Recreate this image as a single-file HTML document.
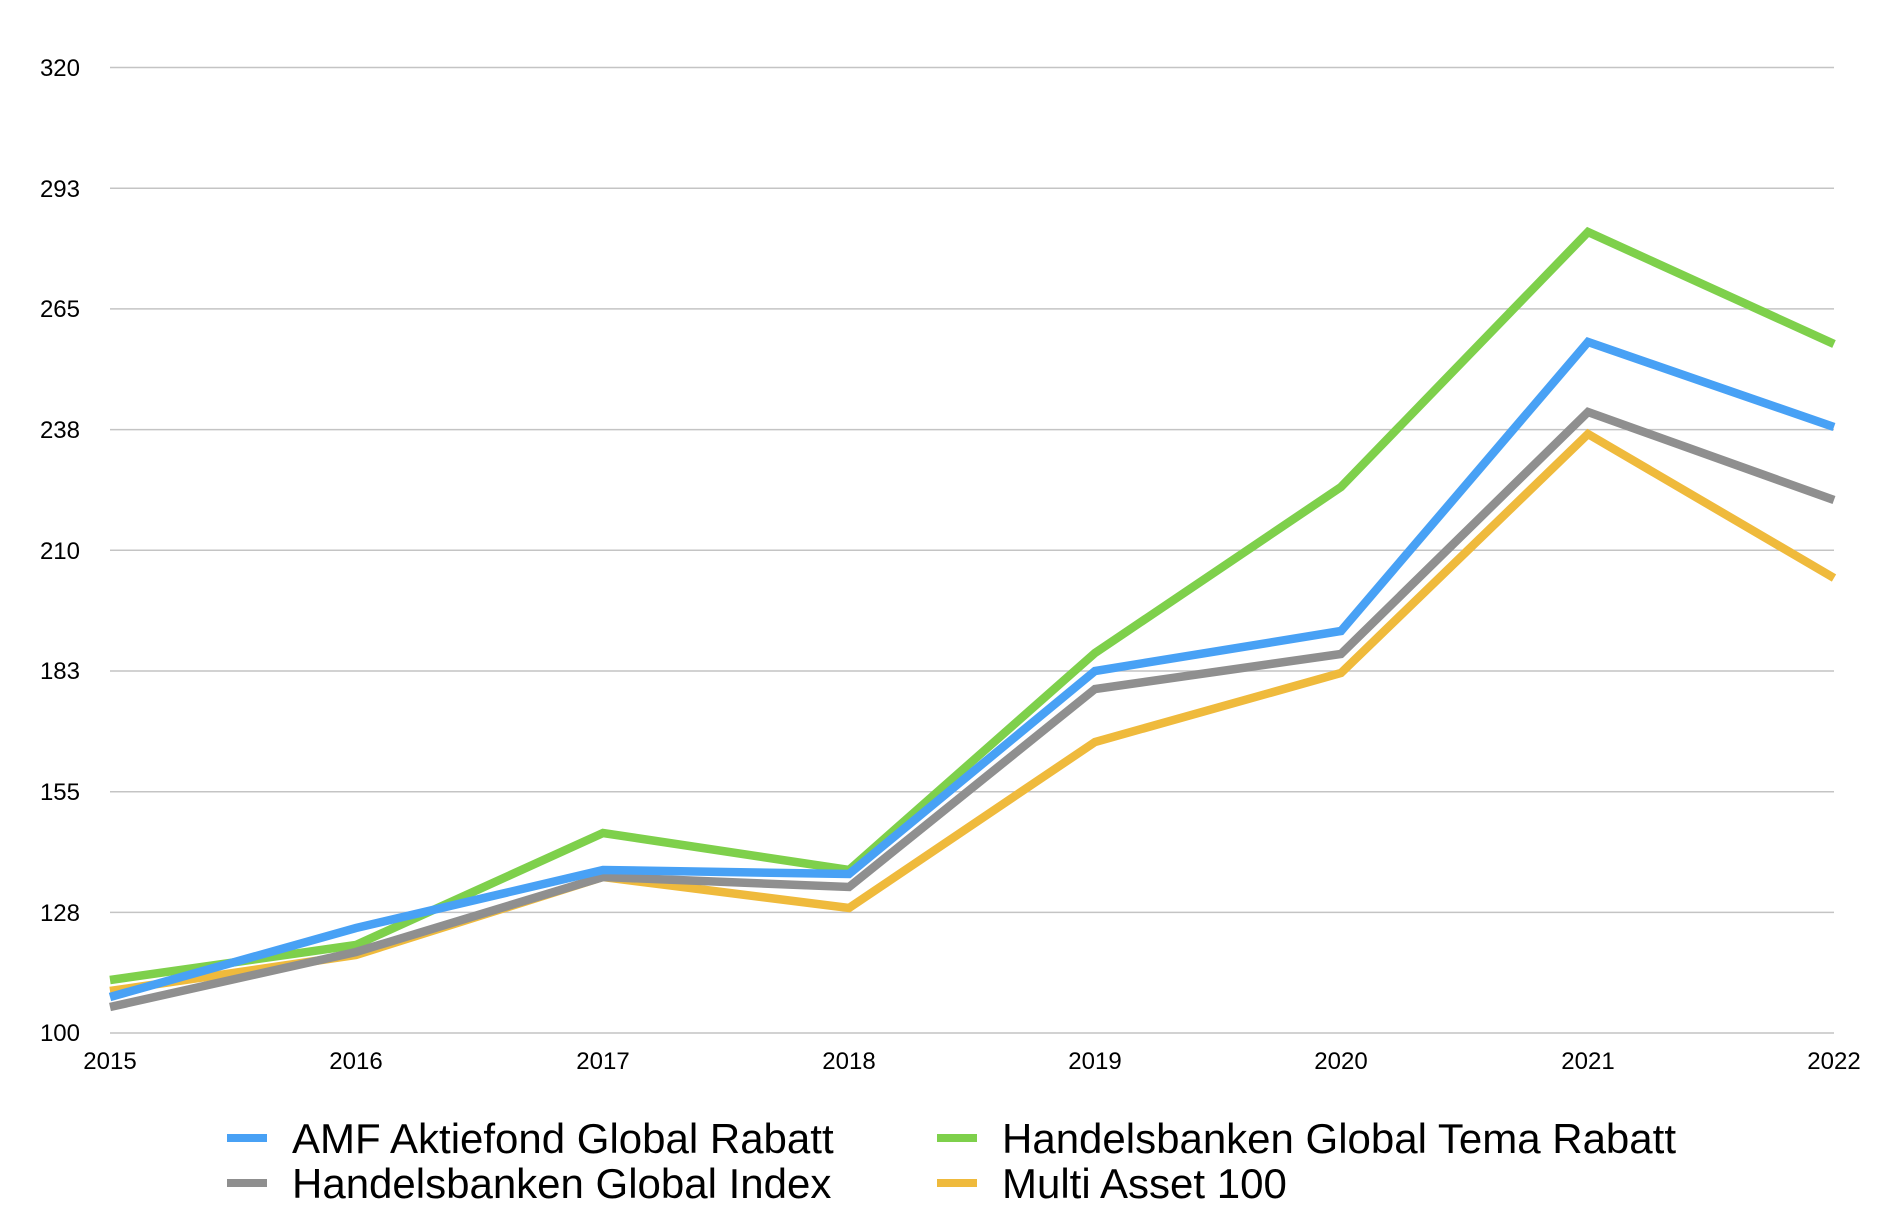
<!DOCTYPE html>
<html><head><meta charset="utf-8"><style>
html,body{margin:0;padding:0;background:#fff;}
svg{display:block;}
text{font-family:"Liberation Sans",Arial,sans-serif;fill:#000;}
</style></head><body>
<svg width="1895" height="1231" viewBox="0 0 1895 1231" xmlns="http://www.w3.org/2000/svg">
<g stroke="#c4c4c4" stroke-width="1.5">
<line x1="110" x2="1834" y1="67.5" y2="67.5"/>
<line x1="110" x2="1834" y1="188.2" y2="188.2"/>
<line x1="110" x2="1834" y1="308.9" y2="308.9"/>
<line x1="110" x2="1834" y1="429.6" y2="429.6"/>
<line x1="110" x2="1834" y1="550.3" y2="550.3"/>
<line x1="110" x2="1834" y1="671" y2="671"/>
<line x1="110" x2="1834" y1="791.7" y2="791.7"/>
<line x1="110" x2="1834" y1="912.4" y2="912.4"/>
<line x1="110" x2="1834" y1="1033" y2="1033"/>
</g>
<g font-size="24" text-anchor="end">
<text x="80" y="76">320</text>
<text x="80" y="197">293</text>
<text x="80" y="317">265</text>
<text x="80" y="438">238</text>
<text x="80" y="559">210</text>
<text x="80" y="679">183</text>
<text x="80" y="800">155</text>
<text x="80" y="921">128</text>
<text x="80" y="1041">100</text>
</g>
<g font-size="24" text-anchor="middle">
<text x="110" y="1069">2015</text>
<text x="356" y="1069">2016</text>
<text x="603" y="1069">2017</text>
<text x="849" y="1069">2018</text>
<text x="1095" y="1069">2019</text>
<text x="1341" y="1069">2020</text>
<text x="1588" y="1069">2021</text>
<text x="1834" y="1069">2022</text>
</g>
<g fill="none" stroke-width="8.5" stroke-linejoin="miter">
<polyline stroke="#7ed04b" points="110,980 356,945 603,833 849,870 1095,653 1341,487 1588,232 1834,344"/>
<polyline stroke="#efba3c" points="110,991 356,955 603,877 849,908 1095,742 1341,673 1588,434 1834,578"/>
<polyline stroke="#8f8f8f" points="110,1007 356,952 603,877 849,887 1095,689 1341,654 1588,412 1834,500"/>
<polyline stroke="#48a1f5" points="110,997 356,928 603,870 849,874 1095,671 1341,631 1588,342 1834,427"/>
</g>
<g stroke-width="8">
<line x1="227" x2="267" y1="1138" y2="1138" stroke="#48a1f5"/>
<line x1="227" x2="267" y1="1183" y2="1183" stroke="#8f8f8f"/>
<line x1="937" x2="977" y1="1138" y2="1138" stroke="#7ed04b"/>
<line x1="937" x2="977" y1="1183" y2="1183" stroke="#efba3c"/>
</g>
<g font-size="42">
<text x="292" y="1153">AMF Aktiefond Global Rabatt</text>
<text x="292" y="1198">Handelsbanken Global Index</text>
<text x="1002" y="1153">Handelsbanken Global Tema Rabatt</text>
<text x="1002" y="1198">Multi Asset 100</text>
</g>
</svg>
</body></html>
